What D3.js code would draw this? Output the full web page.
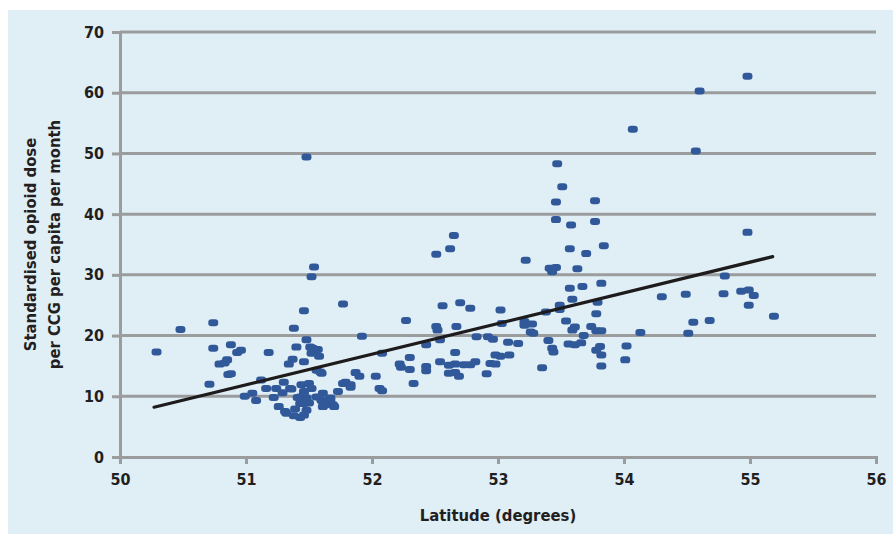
<!DOCTYPE html>
<html>
<head>
<meta charset="utf-8">
<script src="https://cdn.jsdelivr.net/npm/d3@7"></script>
<style>
  html, body { margin: 0; padding: 0; background: #ffffff; }
  svg { display: block; }
  text { font-family: "DejaVu Sans Condensed", "DejaVu Sans", sans-serif; font-weight: bold; fill: #231f20; }
</style>
</head>
<body>
<svg id="chart" width="893" height="534"></svg>
<script>
// ---- data ----
const latitude = [
  50.29,50.48,50.74,50.74,50.71,50.88,50.96,50.93,50.85,50.83,50.79,50.88,50.86,50.99,51.05,51.08,51.12,
  51.18,51.16,51.24,51.22,51.29,51.30,51.36,51.38,51.40,51.37,51.34,51.46,51.26,51.31,51.32,51.38,51.43,51.46,51.48,51.39,
  51.48,51.54,51.52,51.77,51.46,51.92,51.48,
  51.51,51.57,51.52,51.58,51.55,51.53,
  51.56,51.60,51.87,51.90,
  51.35,51.44,51.50,51.52,51.46,51.43,51.48,51.46,51.50,51.41,51.46,
  51.61,51.56,51.60,51.67,51.63,51.69,51.73,51.77,51.83,51.79,51.83,51.59,51.48,51.60,51.67,51.61,51.70,51.43,
  52.08,52.03,52.06,52.08,
  52.65,52.62,52.51,52.56,52.70,52.78,53.02,52.27,52.51,52.52,52.67,53.03,52.83,52.92,52.96,53.08,53.16,52.43,52.54,
  52.30,52.66,52.98,53.02,53.09,52.22,52.23,52.30,52.43,52.43,52.54,52.61,52.66,52.73,52.78,52.82,52.94,52.98,
  52.61,52.66,52.69,52.91,52.33,
  53.47,53.51,53.46,53.77,53.46,53.58,53.77,53.57,53.84,53.70,53.22,53.41,53.46,53.43,53.63,53.57,53.67,53.82,
  53.59,53.79,53.38,53.49,53.49,53.78,53.54,53.21,53.21,53.27,53.61,53.59,53.74,53.78,53.82,53.26,53.28,53.68,
  53.40,53.43,53.44,53.56,53.61,53.66,53.81,53.78,53.82,54.02,54.01,53.82,53.35,
  54.98,54.60,54.07,54.57,54.98,54.80,54.30,54.49,54.79,54.93,54.99,55.03,54.99,55.19,54.55,54.68,54.13,54.51
];
const opioidDose = [
  17.3,21.0,22.1,17.9,12.0,18.5,17.6,17.2,16.0,15.5,15.3,13.7,13.6,10.0,10.5,9.3,12.7,
  17.2,11.3,11.3,9.8,10.6,12.3,11.2,21.2,18.1,16.1,15.3,15.7,8.3,7.5,7.2,6.8,6.5,6.9,7.7,7.9,
  49.4,31.3,29.7,25.2,24.1,19.9,19.3,
  18.1,17.7,17.1,16.6,17.3,17.9,
  14.3,13.8,13.9,13.3,
  11.3,11.9,12.1,11.3,10.8,9.9,9.7,8.8,8.9,9.8,10.5,
  10.5,9.9,9.4,9.7,8.6,8.6,10.8,12.1,11.9,12.3,11.5,14.0,9.4,9.3,9.1,8.3,8.3,8.8,
  17.1,13.3,11.3,10.9,
  36.5,34.3,33.4,24.9,25.4,24.5,24.2,22.5,21.5,20.9,21.5,22.0,19.8,19.8,19.4,18.9,18.7,18.5,19.3,
  16.4,17.2,16.8,16.6,16.8,15.3,14.8,14.4,14.9,14.2,15.7,15.1,15.3,15.2,15.2,15.7,15.4,15.3,
  13.8,13.9,13.3,13.7,12.1,
  48.3,44.5,42.0,42.2,39.1,38.2,38.8,34.3,34.8,33.5,32.4,31.1,31.2,30.5,31.0,27.8,28.1,28.6,
  26.0,25.5,23.9,25.0,24.3,23.6,22.4,22.3,21.7,21.9,21.4,20.9,21.5,20.8,20.8,20.6,20.4,20.0,
  19.2,17.9,17.3,18.6,18.5,18.8,18.2,17.6,16.8,18.3,16.0,15.0,14.7,
  62.7,60.3,54.0,50.4,37.0,29.8,26.4,26.8,26.9,27.3,27.5,26.6,25.0,23.2,22.2,22.5,20.5,20.4
];
const trendLat = [50.27, 55.18];
const trendDose = [8.2, 33.0];
const xTicks = [50, 51, 52, 53, 54, 55, 56];
const yTicks = [0, 10, 20, 30, 40, 50, 60, 70];
const xLabel = "Latitude (degrees)";
const yLabelLines = ["Standardised opioid dose", "per CCG per capita per month"];

// ---- layout ----
const W = 893, H = 534;
const m = { left: 120, right: 17, top: 32, bottom: 77 };
const svg = d3.select("#chart");

svg.append("rect").attr("x", 8).attr("y", 10).attr("width", W - 8).attr("height", H - 10)
  .attr("fill", "#e0eef6");

const x = d3.scaleLinear().domain([50, 56]).range([m.left, W - m.right]);
const y = d3.scaleLinear().domain([0, 70]).range([H - m.bottom, m.top]);

const grey = "#9b9c9e";

// gridlines
svg.append("g").selectAll("line").data(yTicks.filter(d => d > 0)).join("line")
  .attr("x1", m.left).attr("x2", W - m.right)
  .attr("y1", d => y(d)).attr("y2", d => y(d))
  .attr("stroke", grey).attr("stroke-width", 3);

// y axis
const yAxis = svg.append("g").attr("transform", `translate(${m.left},0)`)
  .call(d3.axisLeft(y).tickValues(yTicks).tickSize(8).tickPadding(8).tickFormat(d3.format("d")));
yAxis.select(".domain").attr("stroke", grey).attr("stroke-width", 3);
yAxis.selectAll(".tick line").attr("stroke", grey).attr("stroke-width", 3);
yAxis.selectAll(".tick text").style("font-size", "16px").attr("fill", "#231f20");

// x axis
const xAxis = svg.append("g").attr("transform", `translate(0,${H - m.bottom})`)
  .call(d3.axisBottom(x).tickValues(xTicks).tickSizeInner(7).tickSizeOuter(7).tickPadding(10).tickFormat(d3.format("d")));
xAxis.select(".domain").attr("stroke", grey).attr("stroke-width", 3);
xAxis.selectAll(".tick line").attr("stroke", grey).attr("stroke-width", 3);
xAxis.selectAll(".tick text").style("font-size", "16px").attr("fill", "#231f20");

// points
const pts = latitude.map((d, i) => ({ lat: d, v: opioidDose[i] }));
svg.append("g").selectAll("rect").data(pts).join("rect")
  .attr("x", d => x(d.lat) - 5).attr("y", d => y(d.v) - 3.5)
  .attr("width", 10).attr("height", 7).attr("rx", 3.2).attr("ry", 3.2)
  .attr("fill", "#31599a");

// trend line
svg.append("line")
  .attr("x1", x(trendLat[0])).attr("y1", y(trendDose[0]))
  .attr("x2", x(trendLat[1])).attr("y2", y(trendDose[1]))
  .attr("stroke", "#1d1b1c").attr("stroke-width", 3.2).attr("stroke-linecap", "round");

// axis labels
svg.append("text").attr("x", (m.left + W - m.right) / 2).attr("y", 521)
  .attr("text-anchor", "middle").style("font-size", "16.5px").text(xLabel);

const yl = svg.append("text").attr("transform", `translate(36,${(m.top + H - m.bottom) / 2}) rotate(-90)`)
  .attr("text-anchor", "middle").style("font-size", "16.5px");
yl.selectAll("tspan").data(yLabelLines).join("tspan")
  .attr("x", 0).attr("dy", (d, i) => i === 0 ? "0" : "24px").text(d => d);
</script>
</body>
</html>
